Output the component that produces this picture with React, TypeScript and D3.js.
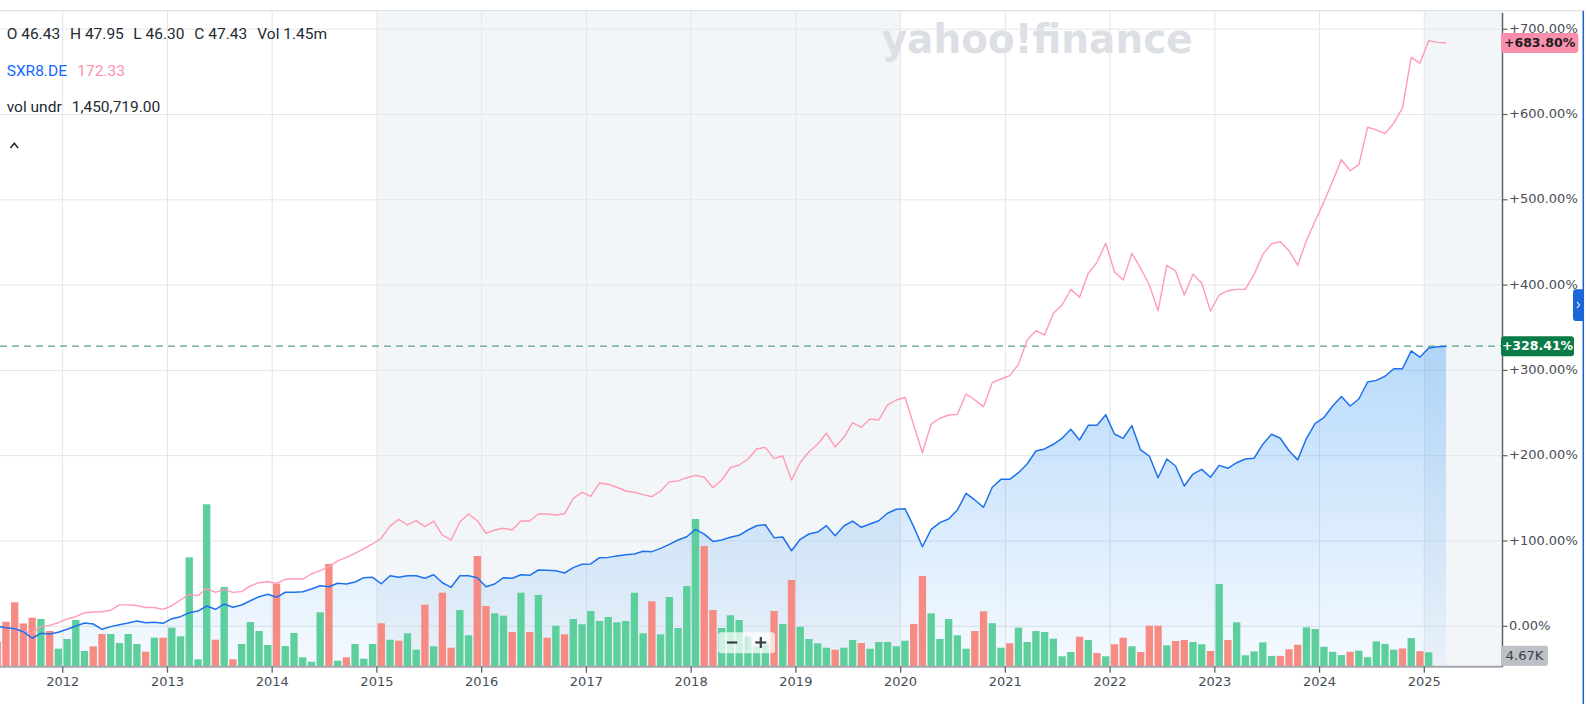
import React from "react";
import * as d3 from "d3";

// ---- data (monthly, first month = May 2011) ----
const FIRST_YEAR = 2011;
const FIRST_MONTH = 4; // 0-based: May

const mainPct: number[] = [
  0, -1.6, -2.8, -6.3, -14, -8.2, -9, -7,
  -3.5, 0.4, 3.9, 2.7, -3.5, -0.4, 1.9, 3.9, 6.2, 4.2, 4.7, 3.5,
  8.9, 11.3, 15.9, 17.9, 23.8, 19.9, 26.1, 22.3, 25, 30, 34.7, 37.5,
  34, 39.9, 39.9, 40.6, 43.7, 47.6, 46.4, 50.4, 49.6, 51.9, 57, 57.4,
  49.9, 59.3, 57.4, 59.3, 59.3, 56.3, 60.5, 51.1, 45.7, 59.3, 59.3, 57,
  46.4, 49.6, 57, 56.3, 60.5, 59.8, 66, 65.6, 65.2, 62.5, 68.8, 72.7,
  73.1, 80.4, 80.8, 82.3, 83.9, 84.7, 87.9, 87.5, 91.4, 96.1, 101.2, 105,
  113.6, 108, 99.5, 101.2, 104.3, 106.7, 112.9, 117.9, 119.1, 103.9, 104.7, 88.6,
  102, 108.2, 110.5, 117.9, 106.2, 117.6, 123.4, 116.1, 119.9, 123.8, 132.5, 137.2,
  137.9, 116.8, 93.3, 113.7, 121.5, 125.8, 136.3, 155.9, 148.1, 139.5, 163, 172.3,
  172.3, 180.1, 190.3, 205.5, 207.9, 213.4, 220.4, 230.9, 218.4, 235.6, 235.6, 248.1,
  225.4, 220.4, 235.2, 206.7, 199.6, 174.2, 196.1, 187.9, 164.5, 178.5, 184, 174.7,
  188.7, 185.2, 191.8, 196.1, 197, 213.5, 225.2, 220.4, 205.8, 195.1, 220.4, 237.9,
  244.7, 258.3, 269.4, 258.3, 266.5, 286.4, 288.3, 293.2, 301.9, 301.9, 322.8, 315.5,
  326.2, 327.7, 328.41,
];

const comparePct: number[] = [
  0, -1.2, -3.5, -5.5, -8.2, -0.4, 1.1, 4.2,
  8.6, 11.3, 15.9, 16.8, 17.1, 18.8, 25.1, 25.1, 24.3, 22, 22, 19.9,
  24.3, 30.8, 37.4, 35.9, 44.5, 39.8, 43.3, 39.8, 40.6, 47.3, 51.1, 52.3,
  50.4, 55.1, 55.4, 55.4, 61.3, 65.2, 69.9, 76.6, 80.9, 85.6, 91, 96.5,
  103.2, 117.5, 125.4, 118.8, 123.8, 116.8, 123.4, 107, 101.2, 122.3, 131.7, 123.8,
  109.1, 112.9, 114.9, 112.9, 123.4, 123.4, 131.7, 131.7, 130.5, 132, 150, 157.1,
  152.4, 168, 166.5, 163, 158.6, 157.1, 154.3, 151.9, 158.6, 169.3, 170.4, 174.2,
  177, 174.7, 162.5, 171.5, 185.9, 189.1, 195.8, 207.9, 209.8, 196.9, 199.6, 171.5,
  191.8, 204.7, 213.4, 226.3, 210.2, 221.6, 238.7, 233.3, 243, 241.9, 259.4, 265.3,
  268.5, 236, 203.5, 237.2, 243.8, 247.7, 248.5, 272.3, 265.3, 257.5, 285.6, 289.9,
  293.8, 307.1, 335.6, 346.5, 341.5, 366.9, 376.7, 395, 385.7, 413.8, 426.7, 449,
  415.7, 406, 437.3, 419.7, 400.1, 370, 423.2, 416.5, 388.4, 412.7, 402.1, 369.6,
  388.4, 393.4, 395, 395.2, 412.5, 436, 448.5, 451, 440.3, 423.3, 452.4, 475.2,
  497.6, 521.8, 547.1, 534, 541.3, 585, 582, 577.7, 589.8, 607.8, 667, 660.2,
  686.4, 684.5, 683.8,
];

// volume in thousands of shares
const volumeK: number[] = [
  250, 450, 644, 433, 490, 477, 357, 180,
  277, 467, 157, 204, 327, 327, 237, 327, 227, 150, 290, 290,
  390, 304, 1094, 74, 1624, 270, 797, 74, 227, 447, 357, 217,
  830, 207, 337, 94, 50, 544, 1027, 60, 94, 227, 80, 227,
  434, 270, 260, 334, 170, 620, 204, 740, 190, 567, 314, 1107,
  607, 534, 510, 347, 740, 347, 717, 290, 410, 324, 477, 424,
  557, 457, 497, 444, 457, 740, 334, 654, 324, 697, 387, 807,
  1477, 1207, 567, 387, 514, 467, 300, 200, 220, 557, 427, 867,
  400, 277, 234, 190, 170, 190, 267, 237, 180, 247, 247, 204,
  260, 427, 907, 534, 277, 477, 314, 180, 357, 554, 435, 190,
  235, 390, 247, 357, 347, 280, 104, 147, 300, 267, 137, 104,
  224, 290, 204, 147, 410, 410, 214, 257, 267, 247, 224, 157,
  827, 267, 444, 114, 153, 243, 108, 108, 174, 220, 393, 377,
  199, 149, 116, 149, 161, 95, 253, 228, 170, 182, 286, 155, 144,
];

// u = up month (green), d = down month (red)
const volumeDir: string[] = (
  "dddddudu" +
  "uuudduuuudud" +
  "uuuuududuuuu" +
  "duuuuududuuu" +
  "duduududduud" +
  "duududududuu" +
  "uuuuuuuduuuu" +
  "udduuuuuudud" +
  "uuuuduuduuuu" +
  "udduuuuudduu" +
  "duuuuuuududu" +
  "ddudddudduud" +
  "uduuuuuddduu" +
  "uuuduuuuududu"
).split("");

const yearTicks = [2012, 2013, 2014, 2015, 2016, 2017, 2018, 2019, 2020, 2021, 2022, 2023, 2024, 2025];
const pctTicks = [0, 100, 200, 300, 400, 500, 600, 700];
const shadedPeriods: [number, number][] = [[2015, 2020], [2025, 2030]];

const legendOHLC = [
  { t: "O 46.43", x: 6.7 },
  { t: "H 47.95", x: 70 },
  { t: "L 46.30", x: 133.3 },
  { t: "C 47.43", x: 194.3 },
  { t: "Vol 1.45m", x: 257.3 },
];
const compareName = "SXR8.DE";
const compareValue = "172.33";
const volLabel = "vol undr";
const volValue = "1,450,719.00";
const lastVolLabel = "4.67K";

// ---- layout ----
const W = 1590, H = 704;
const PLOT_TOP = 10.7, PLOT_BOTTOM = 666.7, AXIS_X = 1502.5;

const monthYear = (i: number) => FIRST_YEAR + (FIRST_MONTH + i + 0.5) / 12;

export default function App() {
  const x = d3.scaleLinear().domain([2012, 2025]).range([62.7, 1424.3]);
  const y = d3.scaleLinear().domain([0, 700]).range([626.3, 29.2]);
  const vh = d3.scaleLinear().domain([0, 2000]).range([0, 200]);
  const monthW = x(2012 + 1 / 12) - x(2012);
  const barW = monthW * 0.84;

  const mainPts = mainPct.map((v, i) => [x(monthYear(i)), y(v)] as [number, number]);
  const cmpPts = comparePct.map((v, i) => [x(monthYear(i)), y(v)] as [number, number]);
  const line = d3.line<[number, number]>().x((d) => d[0]).y((d) => d[1]);
  const area = d3
    .area<[number, number]>()
    .x((d) => d[0])
    .y0(PLOT_BOTTOM)
    .y1((d) => d[1]);

  const lastMain = mainPct[mainPct.length - 1];
  const lastCmp = comparePct[comparePct.length - 1];
  const fmt = (v: number) => (v === 0 ? "0.00%" : (v > 0 ? "+" : "") + v.toFixed(2) + "%");

  const axisFont = "'DejaVu Sans', Verdana, sans-serif";
  const legendFont = "Roboto, 'Helvetica Neue', Arial, sans-serif";

  return (
    <svg
      width={W}
      height={H}
      style={{ position: "absolute", left: 0, top: 0, background: "#fff" }}
      fontFamily={legendFont}
    >
      <defs>
        <linearGradient id="areaGrad" gradientUnits="userSpaceOnUse" x1="0" y1={y(330)} x2="0" y2={PLOT_BOTTOM}>
          <stop offset="0" stopColor="rgb(0,122,240)" stopOpacity={0.28} />
          <stop offset="1" stopColor="rgb(0,122,240)" stopOpacity={0.04} />
        </linearGradient>
        <clipPath id="plotClip">
          <rect x={0} y={PLOT_TOP} width={AXIS_X} height={PLOT_BOTTOM - PLOT_TOP} />
        </clipPath>
      </defs>

      {/* shaded periods */}
      <g clipPath="url(#plotClip)">
        {shadedPeriods.map(([a, b]) => (
          <rect
            key={a}
            x={x(a)}
            y={PLOT_TOP}
            width={Math.min(x(b), AXIS_X) - x(a)}
            height={PLOT_BOTTOM - PLOT_TOP}
            fill="#f3f6f9"
          />
        ))}
      </g>

      {/* watermark */}
      <text
        x={881.7}
        y={53}
        fontFamily="'DejaVu Sans', sans-serif"
        fontWeight={700}
        fontSize={41}
        fill="#dcdfe4"
        textLength={311}
        lengthAdjust="spacingAndGlyphs"
      >
        yahoo!finance
      </text>

      {/* grid */}
      {pctTicks.map((t) => (
        <line key={t} x1={0} x2={AXIS_X} y1={y(t)} y2={y(t)} stroke="#e4e6e9" strokeWidth={1} />
      ))}
      {yearTicks.map((t) => (
        <line key={t} x1={x(t)} x2={x(t)} y1={PLOT_TOP} y2={PLOT_BOTTOM} stroke="#e4e6e9" strokeWidth={1} />
      ))}
      <line x1={0} x2={1583.3} y1={PLOT_TOP} y2={PLOT_TOP} stroke="#dfe2e6" strokeWidth={1.2} />

      <g clipPath="url(#plotClip)">
        {/* area */}
        <path d={area(mainPts) || ""} fill="url(#areaGrad)" />

        {/* volume */}
        {volumeK.map((v, i) => {
          const cx = x(monthYear(i));
          const h = vh(v);
          return (
            <rect
              key={i}
              x={cx - barW / 2}
              y={PLOT_BOTTOM - h}
              width={barW}
              height={h}
              fill={volumeDir[i] === "u" ? "#5ccf9c" : "#f68b83"}
            />
          );
        })}

        {/* last-value dashed line */}
        <line
          x1={0}
          x2={AXIS_X}
          y1={y(lastMain)}
          y2={y(lastMain)}
          stroke="#5aa387"
          strokeWidth={1.1}
          strokeDasharray="7 5"
        />

        {/* lines */}
        <path d={line(cmpPts) || ""} fill="none" stroke="#ff9bb4" strokeWidth={1.4} strokeLinejoin="round" />
        <path d={line(mainPts) || ""} fill="none" stroke="#1f72ec" strokeWidth={1.5} strokeLinejoin="round" />
      </g>

      {/* bottom axis */}
      <line x1={0} x2={AXIS_X} y1={PLOT_BOTTOM} y2={PLOT_BOTTOM} stroke="#a3a7ad" strokeWidth={2} />
      {yearTicks.map((t) => (
        <g key={t}>
          <line x1={x(t)} x2={x(t)} y1={PLOT_BOTTOM} y2={PLOT_BOTTOM + 6} stroke="#5f6368" strokeWidth={1.3} />
          <text
            x={x(t)}
            y={682}
            textAnchor="middle"
            dominantBaseline="middle"
            fontFamily={axisFont}
            fontSize={13}
            fill="#464e56"
          >
            {t}
          </text>
        </g>
      ))}

      {/* right axis */}
      <line x1={AXIS_X} x2={AXIS_X} y1={PLOT_TOP + 2} y2={PLOT_BOTTOM} stroke="#5f6368" strokeWidth={1.5} />
      {pctTicks.map((t) => (
        <g key={t}>
          <line x1={AXIS_X} x2={AXIS_X + 5} y1={y(t)} y2={y(t)} stroke="#5f6368" strokeWidth={1.2} />
          <text
            x={AXIS_X + 6.5}
            y={y(t)}
            dominantBaseline="middle"
            fontFamily={axisFont}
            fontSize={13}
            fill="#464e56"
          >
            {fmt(t)}
          </text>
        </g>
      ))}

      {/* value badges */}
      <rect x={1501} y={y(lastCmp) - 10} width={77.3} height={20} rx={3} fill="#f98fac" />
      <text
        x={1539.6}
        y={y(lastCmp)}
        textAnchor="middle"
        dominantBaseline="middle"
        fontFamily={axisFont}
        fontWeight={700}
        fontSize={12.5}
        fill="#1d1d1f"
      >
        {fmt(lastCmp)}
      </text>
      <rect x={1501} y={y(lastMain) - 10} width={73} height={20} rx={3} fill="#0b7c48" />
      <text
        x={1537.5}
        y={y(lastMain)}
        textAnchor="middle"
        dominantBaseline="middle"
        fontFamily={axisFont}
        fontWeight={700}
        fontSize={12.5}
        fill="#ffffff"
      >
        {fmt(lastMain)}
      </text>
      <rect x={1501} y={645.7} width={47} height={20.3} rx={3} fill="#bcc0c7" />
      <text
        x={1524.5}
        y={656}
        textAnchor="middle"
        dominantBaseline="middle"
        fontFamily={axisFont}
        fontSize={13}
        fill="#3c4043"
      >
        {lastVolLabel}
      </text>

      {/* right edge panel handle */}
      <line x1={1583.3} x2={1583.3} y1={PLOT_TOP} y2={H} stroke="#1d60d2" strokeWidth={1.5} />
      <path d="M1583.5,289.3 H1576 Q1573,289.3 1573,292.3 V318 Q1573,321 1576,321 H1583.5 Z" fill="#1a66d9" />
      <polyline points="1577,302 1579.5,305 1577,308" fill="none" stroke="#fff" strokeWidth={1.1} />

      {/* zoom control */}
      <rect x={718.3} y={632.3} width={56.7} height={21} rx={3} fill="rgba(255,255,255,0.72)" />
      <line x1={746.7} x2={746.7} y1={635.5} y2={650} stroke="#d0d3d7" strokeWidth={1} />
      <line x1={727} x2={737.3} y1={642.5} y2={642.5} stroke="#3c4043" strokeWidth={2.2} />
      <line x1={755.3} x2={766.3} y1={642.5} y2={642.5} stroke="#3c4043" strokeWidth={2.2} />
      <line x1={760.8} x2={760.8} y1={637} y2={648} stroke="#3c4043" strokeWidth={2.2} />

      {/* legend */}
      {legendOHLC.map((d) => (
        <text key={d.t} x={d.x} y={35} dominantBaseline="middle" fontSize={15.5} fill="#232a31">
          {d.t}
        </text>
      ))}
      <text x={6.7} y={71.7} dominantBaseline="middle" fontSize={15.5} fill="#0f69ff">
        {compareName}
      </text>
      <text x={77.3} y={71.7} dominantBaseline="middle" fontSize={15.5} fill="#ff8fab">
        {compareValue}
      </text>
      <text x={6.7} y={108.3} dominantBaseline="middle" fontSize={15.5} fill="#232a31">
        {volLabel}
      </text>
      <text x={71.7} y={108.3} dominantBaseline="middle" fontSize={15.5} fill="#232a31">
        {volValue}
      </text>
      <polyline points="10.5,148 14.3,143.3 18.1,148" fill="none" stroke="#232a31" strokeWidth={1.6} />
    </svg>
  );
}
